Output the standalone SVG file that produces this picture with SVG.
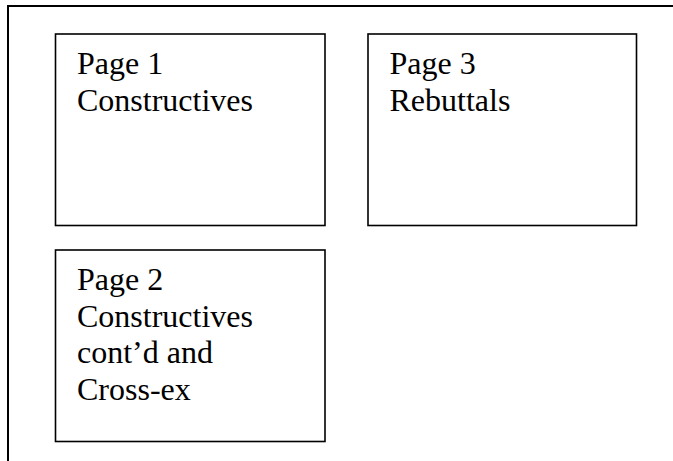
<svg xmlns="http://www.w3.org/2000/svg" width="673" height="461" viewBox="0 0 673 461">
<style>
.box{fill:#fff;stroke:#000;stroke-width:1.6}
.t{font-family:"Liberation Serif","Times New Roman",serif;font-size:32px;fill:#000}
.frame{fill:none;stroke:#000;stroke-width:2}
</style>
<rect width="673" height="461" fill="#fff"/>
<g id="frame">
<path class="frame" d="M8,461 V6 H673"/>
</g>
<g id="connectors"></g>
<g id="page1">
<rect class="box" x="55.5" y="34" width="269.5" height="191.5"/>
<text class="t" x="77" y="74">Page 1</text>
<text class="t" x="77" y="110.7">Constructives</text>
</g>
<g id="page3">
<rect class="box" x="368" y="34" width="268.5" height="191.5"/>
<text class="t" x="389.5" y="74">Page 3</text>
<text class="t" x="389.5" y="110.7">Rebuttals</text>
</g>
<g id="page2">
<rect class="box" x="55.5" y="250" width="269.5" height="191.5"/>
<text class="t" x="77" y="290">Page 2</text>
<text class="t" x="77" y="326.7">Constructives</text>
<text class="t" x="77" y="363.4">cont’d and</text>
<text class="t" x="77" y="400.1">Cross-ex</text>
</g>
</svg>
